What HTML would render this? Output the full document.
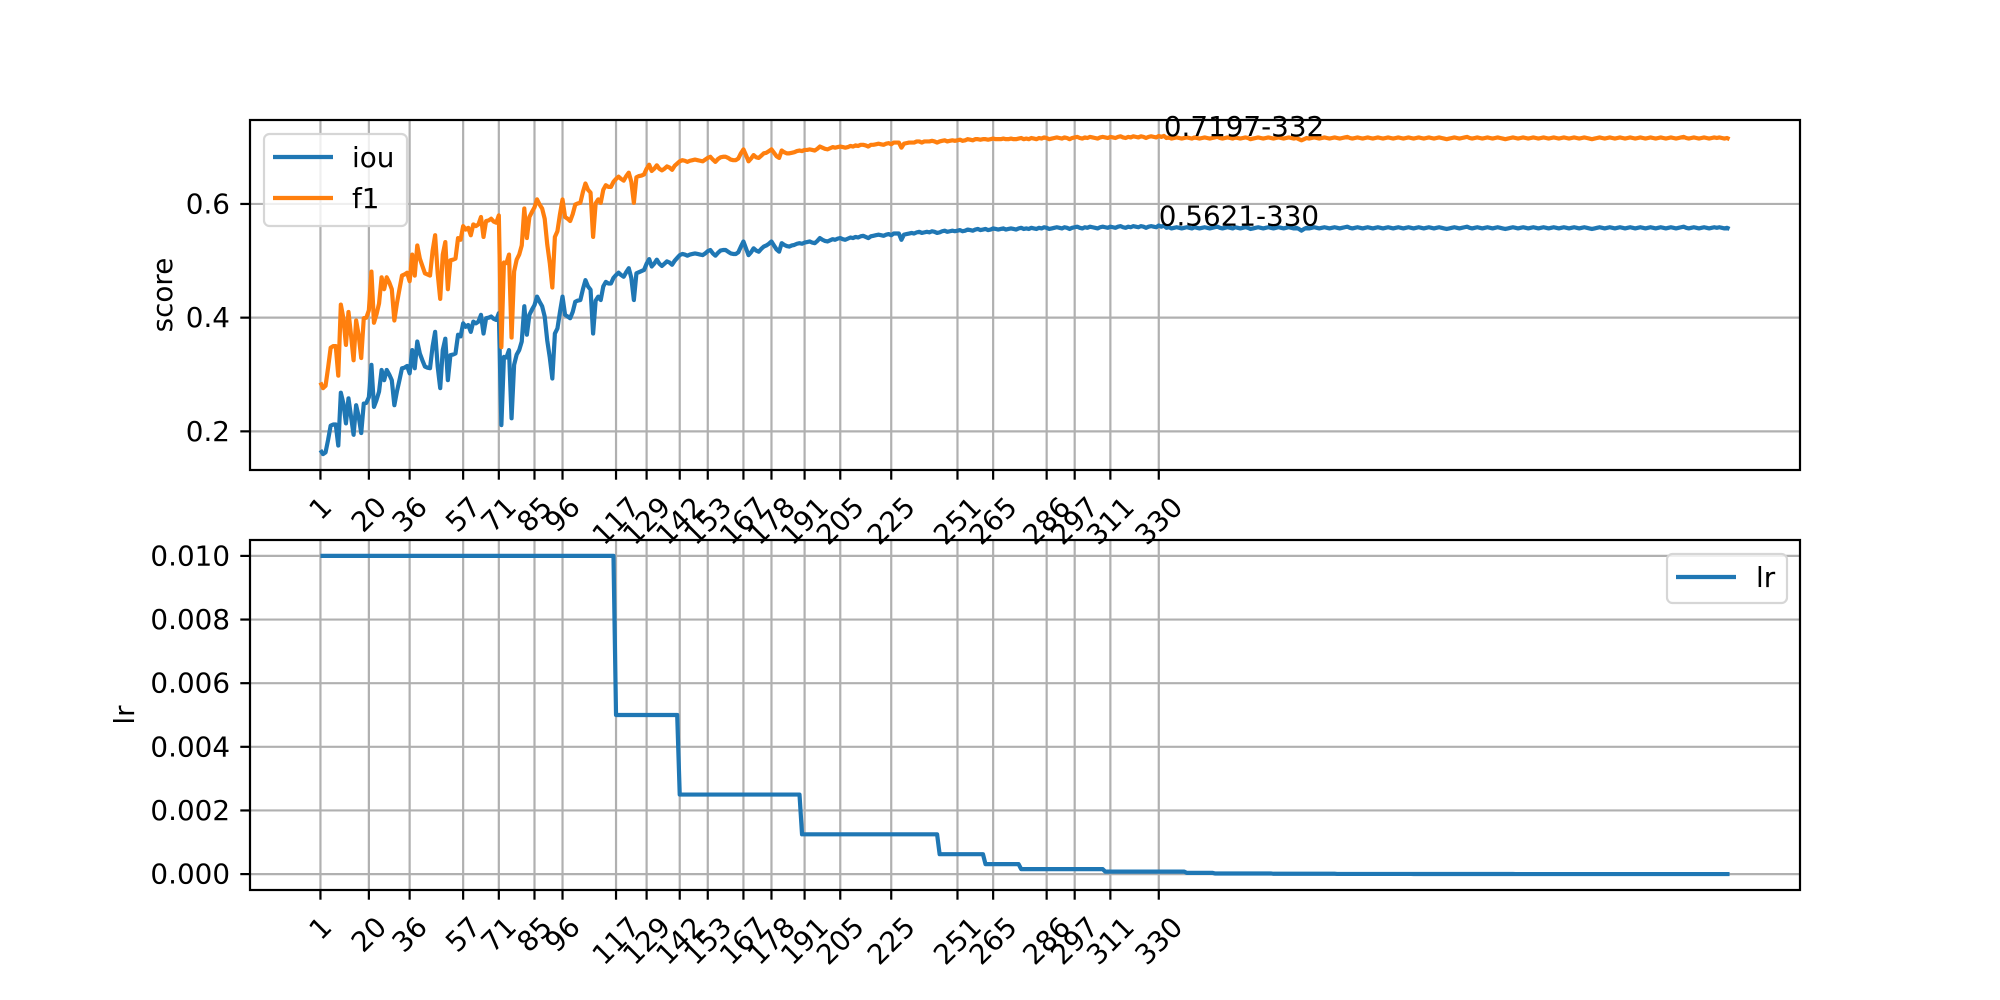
<!DOCTYPE html>
<html><head><meta charset="utf-8"><title>Training metrics</title>
<style>
html,body{margin:0;padding:0;background:#fff;}
svg{display:block;font-family:"DejaVu Sans","Liberation Sans",sans-serif;}
</style></head>
<body>
<svg id="fig" width="2000" height="1000" viewBox="0 0 2000 1000" xmlns="http://www.w3.org/2000/svg">
<rect x="0" y="0" width="2000" height="1000" fill="#fff"/>
<defs>
<clipPath id="clipTop"><rect x="250" y="120" width="1550" height="350"/></clipPath>
<clipPath id="clipBot"><rect x="250" y="540" width="1550" height="350"/></clipPath>
</defs>
<g id="topChart"></g>
<g id="botChart"></g>
</svg>
<script>
const xTicks = [1,20,36,57,71,85,96,117,129,142,153,167,178,191,205,225,251,265,286,297,311,330];
const scoreTicks = [0.2,0.4,0.6];
const lrTicks = [0,0.002,0.004,0.006,0.008,0.010];
const lrStepEpochs = [1,117,142,190,244,262,276,309,341,352,375,400,430,470,510];
const lrStepValues = [0.01,0.005,0.0025,0.00125,0.000625,0.0003125,0.00015625,0.000078,0.000039,0.0000195,0.0000098,0.0000049,0.0000024,0.0000012,0.0000006];
const iouBestEpoch = 330;
const iouBestValue = 0.5621;
const f1BestEpoch = 332;
const f1BestValue = 0.7197;
const iou = [
.167,.160,.163,.185,.21,.212,.212,.175,.268,.249,
.214,.258,.226,.194,.246,.226,.197,.249,.25,.26,
.317,.243,.255,.27,.308,.29,.308,.3,.29,.246,
.27,.29,.311,.312,.315,.302,.343,.311,.358,.337,
.325,.314,.312,.311,.349,.375,.314,.276,.343,.363,
.29,.334,.335,.337,.37,.367,.39,.384,.387,.375,
.393,.39,.393,.405,.372,.399,.4,.402,.398,.396,
.408,.211,.331,.33,.343,.223,.317,.335,.343,.358,
.42,.37,.405,.414,.422,.437,.428,.42,.402,.36,
.33,.293,.372,.381,.41,.437,.405,.402,.399,.41,
.428,.43,.431,.45,.466,.455,.449,.372,.43,.437,
.431,.455,.463,.46,.46,.47,.475,.479,.475,.472,
.48,.487,.47,.431,.478,.48,.482,.484,.495,.503,
.49,.495,.502,.495,.491,.495,.499,.497,.493,.5,
.505,.51,.512,.511,.509,.511,.512,.513,.512,.511,
.51,.513,.517,.519,.513,.509,.514,.518,.519,.519,
.516,.513,.512,.512,.515,.525,.534,.522,.51,.515,
.522,.518,.516,.521,.525,.527,.53,.534,.527,.52,
.516,.531,.528,.526,.525,.527,.528,.53,.531,.53,
.532,.533,.534,.532,.531,.535,.54,.537,.535,.534,
.536,.538,.537,.539,.540,.538,.537,.539,.541,.540,
.542,.541,.543,.544,.542,.540,.543,.544,.545,.546,
.545,.544,.546,.547,.545,.548,.548,.548,.537,.546,
.547,.548,.549,.548,.550,.551,.549,.550,.551,.550,
.552,.551,.549,.550,.552,.553,.551,.552,.553,.552,
.553,.554,.552,.553,.555,.554,.553,.555,.556,.554,
.555,.556,.554,.555,.557,.556,.555,.556,.557,.555,
.556,.557,.556,.555,.557,.558,.556,.557,.556,.558,
.557,.556,.558,.557,.559,.558,.556,.557,.558,.559,
.558,.557,.559,.558,.556,.558,.559,.560,.558,.557,
.559,.558,.560,.559,.558,.557,.559,.560,.559,.558,
.560,.559,.558,.560,.561,.559,.558,.560,.559,.561,
.560,.559,.561,.560,.558,.560,.561,.560,.559,.5621,
.560,.562,.558,.559,.557,.558,.559,.558,.557,.558,
.559,.558,.557,.559,.558,.557,.558,.559,.558,.557,
.558,.559,.560,.558,.557,.558,.559,.558,.557,.559,
.558,.557,.558,.559,.558,.556,.557,.558,.559,.558,
.557,.558,.559,.558,.557,.558,.559,.558,.557,.558,
.559,.558,.557,.558,.556,.553,.556,.558,.557,.558,
.559,.558,.557,.558,.559,.558,.557,.558,.559,.558,
.557,.558,.559,.560,.558,.557,.558,.559,.558,.557,
.558,.559,.558,.557,.558,.559,.558,.557,.558,.559,
.558,.557,.558,.559,.558,.557,.558,.559,.558,.557,
.558,.559,.558,.557,.558,.559,.558,.557,.558,.559,
.558,.557,.556,.557,.558,.559,.558,.557,.558,.559,
.560,.558,.557,.558,.559,.558,.557,.558,.559,.558,
.557,.558,.559,.558,.557,.556,.557,.558,.559,.558,
.557,.558,.559,.558,.557,.558,.559,.558,.557,.558,
.559,.558,.557,.558,.559,.558,.557,.558,.559,.558,
.557,.558,.559,.558,.557,.558,.559,.558,.557,.556,
.557,.558,.559,.558,.557,.558,.559,.558,.557,.558,
.559,.558,.557,.558,.559,.558,.557,.558,.559,.558,
.557,.558,.559,.558,.557,.558,.559,.558,.557,.558,
.559,.558,.557,.558,.559,.560,.558,.557,.558,.559,
.558,.557,.558,.559,.558,.557,.558,.559,.558,.559,
.558,.557,.558,.556
];
const f1 = [
.286,.276,.280,.312,.347,.350,.350,.298,.423,.399,
.352,.410,.369,.325,.395,.369,.329,.399,.400,.413,
.481,.391,.406,.425,.471,.450,.471,.462,.450,.395,
.425,.450,.474,.476,.479,.464,.511,.474,.527,.504,
.491,.478,.476,.474,.517,.545,.478,.433,.511,.533,
.450,.501,.502,.504,.540,.537,.561,.555,.558,.545,
.564,.561,.564,.577,.542,.570,.571,.574,.569,.567,
.580,.348,.497,.496,.511,.365,.481,.502,.511,.527,
.592,.540,.577,.586,.594,.608,.599,.592,.574,.529,
.496,.453,.542,.552,.582,.608,.577,.574,.570,.582,
.599,.601,.602,.621,.636,.625,.620,.542,.601,.608,
.602,.625,.633,.630,.630,.639,.644,.648,.644,.641,
.649,.655,.639,.602,.647,.649,.650,.652,.662,.669,
.658,.662,.668,.662,.659,.662,.666,.664,.660,.667,
.671,.675,.677,.676,.674,.676,.677,.678,.677,.676,
.675,.678,.681,.683,.678,.674,.679,.682,.683,.683,
.681,.678,.677,.677,.680,.689,.696,.686,.675,.680,
.686,.682,.681,.685,.689,.690,.693,.696,.690,.684,
.681,.694,.691,.689,.689,.690,.691,.693,.694,.693,
.695,.695,.696,.695,.694,.697,.701,.699,.697,.696,
.698,.700,.699,.700,.701,.700,.699,.700,.702,.701,
.703,.702,.704,.704,.703,.701,.704,.704,.705,.706,
.705,.704,.706,.707,.705,.708,.708,.708,.699,.706,
.707,.708,.708,.708,.710,.710,.708,.710,.710,.710,
.711,.710,.708,.710,.711,.712,.710,.711,.712,.711,
.712,.713,.711,.712,.714,.713,.712,.714,.714,.713,
.714,.714,.713,.714,.715,.714,.714,.714,.715,.714,
.714,.715,.714,.714,.715,.716,.714,.715,.714,.716,
.715,.714,.716,.715,.717,.716,.714,.715,.716,.717,
.716,.715,.717,.716,.714,.716,.717,.718,.716,.715,
.717,.716,.718,.717,.716,.715,.717,.718,.717,.716,
.718,.717,.716,.718,.719,.717,.716,.718,.717,.719,
.718,.717,.719,.718,.716,.718,.719,.718,.717,.7195,
.718,.7197,.716,.717,.715,.716,.717,.716,.715,.716,
.717,.716,.715,.717,.716,.715,.716,.717,.716,.715,
.716,.717,.718,.716,.715,.716,.717,.716,.715,.717,
.716,.715,.716,.717,.716,.714,.715,.716,.717,.716,
.715,.716,.717,.716,.715,.716,.717,.716,.715,.716,
.717,.716,.715,.716,.714,.712,.714,.716,.715,.716,
.717,.716,.715,.716,.717,.716,.715,.716,.717,.716,
.715,.716,.717,.718,.716,.715,.716,.717,.716,.715,
.716,.717,.716,.715,.716,.717,.716,.715,.716,.717,
.716,.715,.716,.717,.716,.715,.716,.717,.716,.715,
.716,.717,.716,.715,.716,.717,.716,.715,.716,.717,
.716,.715,.714,.715,.716,.717,.716,.715,.716,.717,
.718,.716,.715,.716,.717,.716,.715,.716,.717,.716,
.715,.716,.717,.716,.715,.714,.715,.716,.717,.716,
.715,.716,.717,.716,.715,.716,.717,.716,.715,.716,
.717,.716,.715,.716,.717,.716,.715,.716,.717,.716,
.715,.716,.717,.716,.715,.716,.717,.716,.715,.714,
.715,.716,.717,.716,.715,.716,.717,.716,.715,.716,
.717,.716,.715,.716,.717,.716,.715,.716,.717,.716,
.715,.716,.717,.716,.715,.716,.717,.716,.715,.716,
.717,.716,.715,.716,.717,.718,.716,.715,.716,.717,
.716,.715,.716,.717,.716,.715,.716,.717,.716,.717,
.716,.715,.716,.714
];

(function(){
const NS = "http://www.w3.org/2000/svg";
function mk(tag, attrs, parent){
  const e = document.createElementNS(NS, tag);
  for (const k in attrs) e.setAttribute(k, attrs[k]);
  parent.appendChild(e);
  return e;
}
const AX_L = 250, AX_R = 1800;
const TOP_T = 120, TOP_B = 470, BOT_T = 540, BOT_B = 890;
const nPts = Math.max(iou.length, f1.length);
const xPad = (nPts - 1) * 0.05;
function xScale(v){ return AX_L + (v - (1 - xPad)) / ((nPts + xPad) - (1 - xPad)) * (AX_R - AX_L); }
const allScores = iou.concat(f1);
const sMin = Math.min.apply(null, allScores), sMax = Math.max.apply(null, allScores);
const sPad = (sMax - sMin) * 0.05;
function yTop(v){ return TOP_B - (v - (sMin - sPad)) / ((sMax + sPad) - (sMin - sPad)) * (TOP_B - TOP_T); }
const lrMax = Math.max.apply(null, lrStepValues);
const lPad = lrMax * 0.05;
function yBot(v){ return BOT_B - (v + lPad) / (lrMax + 2 * lPad) * (BOT_B - BOT_T); }

function xGrid(g, t0, b0){
  xTicks.forEach(function(t){
    const x = xScale(t);
    const gl = mk('line', {x1:x, y1:t0, x2:x, y2:b0, stroke:'#b0b0b0', 'stroke-width':2.2}, g);
    
    
  });
}
function xLabels(g, axisBottom){
  xTicks.forEach(function(t){
    const x = xScale(t);
    const tk = mk('line', {x1:x, y1:axisBottom, x2:x, y2:axisBottom + 9.7, stroke:'#000', 'stroke-width':2.2}, g);
    
    
    const s = String(t);
    const bb = (s.length * 17.7 + 20) / Math.SQRT2;
    const cy = axisBottom + 25 + bb / 2;
    const tx = mk('text', {x:x, y:cy, 'font-size':27.8, 'text-anchor':'middle', 'dominant-baseline':'central', fill:'#000', transform:'rotate(-45 ' + x + ' ' + cy + ')'}, g);
    tx.textContent = s;
    
    
  });
}
function yAxis(g, ticks, fn, digits){
  ticks.forEach(function(t){
    const y = fn(t);
    const gl = mk('line', {x1:AX_L, y1:y, x2:AX_R, y2:y, stroke:'#b0b0b0', 'stroke-width':2.2}, g);
    
    
    const tk = mk('line', {x1:AX_L - 9.7, y1:y, x2:AX_L, y2:y, stroke:'#000', 'stroke-width':2.2}, g);
    
    
    const tx = mk('text', {x:AX_L - 20, y:y, 'font-size':27.8, 'text-anchor':'end', 'dominant-baseline':'central', fill:'#000'}, g);
    tx.textContent = t.toFixed(digits);
    
    
  });
}
function pathFrom(xs, ys){
  let d = '';
  for (let i = 0; i < xs.length; i++) d += (i ? 'L' : 'M') + xs[i].toFixed(2) + ' ' + ys[i].toFixed(2);
  return d;
}

const topG = document.getElementById('topChart');
xGrid(topG, TOP_T, TOP_B);
yAxis(topG, scoreTicks, yTop, 1);
const clipT = mk('g', {'clip-path':'url(#clipTop)'}, topG);
const iouPath = mk('path', {d:pathFrom(iou.map(function(v,i){return xScale(i+1);}), iou.map(yTop)), fill:'none', stroke:'#1f77b4', 'stroke-width':4.2, 'stroke-linejoin':'round'}, clipT);


const f1Path = mk('path', {d:pathFrom(f1.map(function(v,i){return xScale(i+1);}), f1.map(yTop)), fill:'none', stroke:'#ff7f0e', 'stroke-width':4.2, 'stroke-linejoin':'round'}, clipT);


const a1 = mk('text', {x:xScale(iouBestEpoch), y:yTop(iouBestValue), 'font-size':27.8, fill:'#000'}, topG);
a1.textContent = iouBestValue.toFixed(4) + '-' + iouBestEpoch;


const a2 = mk('text', {x:xScale(f1BestEpoch), y:yTop(f1BestValue), 'font-size':27.8, fill:'#000'}, topG);
a2.textContent = f1BestValue.toFixed(4) + '-' + f1BestEpoch;


const spT = mk('rect', {x:AX_L, y:TOP_T, width:AX_R - AX_L, height:TOP_B - TOP_T, fill:'none', stroke:'#000', 'stroke-width':2.2}, topG);


xLabels(topG, TOP_B);
const yl1 = mk('text', {x:172, y:295, 'font-size':27.8, 'text-anchor':'middle', fill:'#000', transform:'rotate(-90 172 295)'}, topG);
yl1.textContent = 'score';


const lg = mk('g', {}, topG);


mk('rect', {x:264, y:134, width:143, height:92, rx:5.5, fill:'#fff', 'fill-opacity':0.8, stroke:'#d6d6d6', 'stroke-width':2.2}, lg);
mk('line', {x1:273, y1:157, x2:333, y2:157, stroke:'#1f77b4', 'stroke-width':4.2}, lg);
const lt1 = mk('text', {x:352, y:167, 'font-size':27.8, fill:'#000'}, lg);
lt1.textContent = 'iou';


mk('line', {x1:273, y1:198, x2:333, y2:198, stroke:'#ff7f0e', 'stroke-width':4.2}, lg);
const lt2 = mk('text', {x:352, y:208, 'font-size':27.8, fill:'#000'}, lg);
lt2.textContent = 'f1';



const botG = document.getElementById('botChart');
xGrid(botG, BOT_T, BOT_B);
yAxis(botG, lrTicks, yBot, 3);
const lrX = [], lrY = [];
for (let e = 1; e <= nPts; e++){
  let v = lrStepValues[0];
  for (let k = 0; k < lrStepEpochs.length; k++) if (e >= lrStepEpochs[k]) v = lrStepValues[k];
  lrX.push(xScale(e)); lrY.push(yBot(v));
}
const clipB = mk('g', {'clip-path':'url(#clipBot)'}, botG);
const lrPath = mk('path', {d:pathFrom(lrX, lrY), fill:'none', stroke:'#1f77b4', 'stroke-width':4.2, 'stroke-linejoin':'round'}, clipB);


const spB = mk('rect', {x:AX_L, y:BOT_T, width:AX_R - AX_L, height:BOT_B - BOT_T, fill:'none', stroke:'#000', 'stroke-width':2.2}, botG);


xLabels(botG, BOT_B);
const yl2 = mk('text', {x:134, y:715, 'font-size':27.8, 'text-anchor':'middle', fill:'#000', transform:'rotate(-90 134 715)'}, botG);
yl2.textContent = 'lr';


const lg2 = mk('g', {}, botG);


mk('rect', {x:1667, y:554, width:120, height:49, rx:5.5, fill:'#fff', 'fill-opacity':0.8, stroke:'#d6d6d6', 'stroke-width':2.2}, lg2);
mk('line', {x1:1676, y1:577, x2:1736, y2:577, stroke:'#1f77b4', 'stroke-width':4.2}, lg2);
const lt3 = mk('text', {x:1756, y:587, 'font-size':27.8, fill:'#000'}, lg2);
lt3.textContent = 'lr';


})();
</script>
</body></html>
